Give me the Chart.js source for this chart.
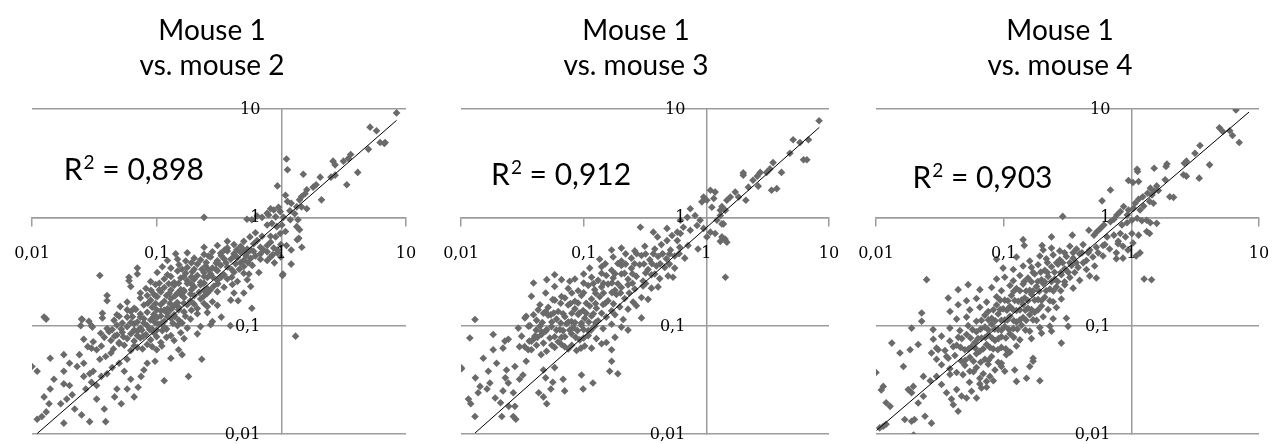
<!DOCTYPE html>
<html>
<head>
<meta charset="utf-8">
<script src="https://cdn.jsdelivr.net/npm/chart.js@4.4.1/dist/chart.umd.min.js"></script>
<style>
  body { margin: 0; background: #fff; width: 1272px; height: 444px; overflow: hidden; }
  .panel { position: absolute; top: 0; width: 424px; height: 444px; }
  .panel canvas { position: absolute; left: 0; top: 0; }
  .title { position: absolute; top: 12px; left: 0; width: 424px; text-align: center;
           font-family: Lato, sans-serif; font-size: 28px; line-height: 35px; color: #000; }
</style>
</head>
<body>
<div class="panel" style="left:0px"><canvas id="c1" width="424" height="444"></canvas><div class="title">Mouse 1<br>vs. mouse 2</div></div>
<div class="panel" style="left:424px"><canvas id="c2" width="424" height="444"></canvas><div class="title">Mouse 1<br>vs. mouse 3</div></div>
<div class="panel" style="left:848px"><canvas id="c3" width="424" height="444"></canvas><div class="title">Mouse 1<br>vs. mouse 4</div></div>
<script>
// axis ticks (log decades) and their labels, decimal comma as in the original
var decades = [0.01, 0.1, 1, 10];
var tickLabels = ['0,01', '0,1', '1', '10'];

// R squared values and where the label starts (data coords: x, baseline y)
var rValues = ['0,898', '0,912', '0,903'];
var rAt = [[0.018, 2.2], [0.0176, 1.98], [0.0193, 1.85]];

// trend line ends
var trend2 = [[0.011, 0.0101], [8.4, 7.85]];
var trend3 = [[0.013, 0.0102], [8.34, 6.77]];
var trend4 = [[0.0101, 0.0108], [8.36, 9.38]];

// mouse 1 (x) vs mouse 2 (y)
var mouse2 = [
  [0.010,0.042],[0.011,0.038],[0.014,0.050],[0.018,0.054],[0.024,0.054],[0.020,0.045],[0.015,0.032],[0.018,0.029],
  [0.020,0.028],[0.014,0.026],[0.0125,0.022],[0.0137,0.019],[0.012,0.0145],[0.011,0.0137],[0.013,0.016],[0.018,0.0126],
  [0.017,0.019],[0.019,0.021],[0.021,0.023],[0.022,0.017],[0.025,0.015],[0.029,0.013],[0.039,0.013],[0.038,0.017],
  [0.033,0.021],[0.026,0.034],[0.029,0.036],[0.031,0.038],[0.027,0.026],[0.030,0.030],[0.033,0.028],[0.036,0.034],
  [0.040,0.036],[0.044,0.041],[0.035,0.049],[0.039,0.052],[0.043,0.056],[0.036,0.065],[0.033,0.060],[0.030,0.062],
  [0.026,0.045],[0.023,0.042],[0.018,0.038],[0.046,0.022],[0.052,0.019],[0.048,0.026],[0.058,0.026],[0.066,0.022],
  [0.071,0.027],[0.062,0.032],[0.055,0.038],[0.050,0.045],[0.058,0.049],[0.079,0.039],[0.084,0.045],[0.075,0.034],
  [0.097,0.047],[0.115,0.031],[0.18,0.034],[0.23,0.049],[0.16,0.054],[0.15,0.060],[0.13,0.050],
  [0.035,0.29],[0.0125,0.12],[0.013,0.115],[0.24,1.0],[1.3,0.08],[1.03,0.30],[1.2,0.37],[1.34,0.62],[0.07,0.34],
  [0.06,0.28],[0.04,0.19],[0.025,0.115],[0.03,0.10],
  [0.028,0.064],[0.045,0.061],[0.055,0.066],[0.062,0.059],[0.070,0.063],[0.084,0.067],[0.10,0.060],[0.11,0.065],
  [0.026,0.075],[0.031,0.071],[0.038,0.078],[0.043,0.073],[0.050,0.070],[0.058,0.076],[0.066,0.072],[0.074,0.077],
  [0.0895,0.074],[0.108,0.070],[0.138,0.073],[0.166,0.076],
  [0.0356,0.085],[0.0415,0.088],[0.048,0.082],[0.053,0.087],[0.062,0.084],[0.070,0.089],[0.082,0.083],[0.095,0.086],
  [0.111,0.090],[0.13,0.081],[0.156,0.086],[0.212,0.084],
  [0.0246,0.100],[0.0305,0.097],[0.040,0.094],[0.048,0.101],[0.058,0.098],[0.066,0.104],[0.074,0.095],[0.084,0.100],
  [0.092,0.093],[0.104,0.103],[0.115,0.097],[0.147,0.100],[0.176,0.095],[0.225,0.098],[0.271,0.102],
  [0.0253,0.114],[0.0286,0.110],[0.0367,0.118],[0.0455,0.112],[0.058,0.120],[0.070,0.108],[0.079,0.116],[0.0895,0.113],
  [0.101,0.119],[0.115,0.110],[0.13,0.117],[0.151,0.112],[0.187,0.115],[0.28,0.109],
  [0.0367,0.130],[0.048,0.126],[0.062,0.135],[0.074,0.128],[0.084,0.133],[0.095,0.127],[0.108,0.137],[0.122,0.130],
  [0.138,0.126],[0.166,0.134],[0.212,0.129],[0.255,0.132],
  [0.051,0.150],[0.066,0.145],[0.079,0.155],[0.092,0.148],[0.108,0.157],[0.122,0.143],[0.138,0.152],[0.151,0.147],
  [0.176,0.156],[0.212,0.144],[0.255,0.150],[0.307,0.154],
  [0.040,0.170],[0.058,0.165],[0.074,0.180],[0.0895,0.172],[0.101,0.185],[0.115,0.168],[0.13,0.177],[0.147,0.163],
  [0.166,0.182],[0.187,0.170],[0.225,0.176],[0.28,0.166],[0.393,0.172],
  [0.074,0.200],[0.095,0.195],[0.108,0.205],[0.126,0.198],[0.147,0.200],[0.166,0.207],[0.187,0.196],[0.219,0.203],
  [0.255,0.199],[0.307,0.206],[0.417,0.200],
  [0.062,0.230],[0.082,0.220],[0.098,0.240],[0.115,0.225],[0.138,0.235],[0.156,0.215],[0.176,0.245],[0.20,0.228],
  [0.225,0.238],[0.255,0.220],[0.288,0.232],[0.347,0.226],[0.405,0.240],[0.568,0.230],
  [0.060,0.260],[0.0895,0.255],[0.115,0.270],[0.138,0.250],[0.156,0.275],[0.176,0.260],[0.20,0.268],[0.225,0.252],
  [0.255,0.278],[0.307,0.262],[0.369,0.270],[0.444,0.256],[0.533,0.265],
  [0.070,0.300],[0.101,0.310],[0.122,0.295],[0.147,0.320],[0.171,0.305],[0.193,0.315],[0.212,0.290],[0.24,0.310],
  [0.271,0.300],[0.307,0.322],[0.347,0.295],[0.417,0.312],[0.50,0.305],[0.55,0.300],[0.66,0.310],
  [0.111,0.350],[0.13,0.340],[0.151,0.365],[0.176,0.345],[0.212,0.370],[0.247,0.355],[0.28,0.340],[0.326,0.362],
  [0.369,0.348],[0.43,0.372],[0.50,0.352],[0.585,0.360],
  [0.122,0.400],[0.147,0.410],[0.171,0.395],[0.20,0.420],[0.225,0.405],[0.271,0.430],[0.307,0.398],[0.347,0.415],
  [0.393,0.410],[0.444,0.425],[0.50,0.402],[0.568,0.418],[0.68,0.410],[0.82,0.430],
  [0.142,0.460],[0.176,0.470],[0.24,0.455],[0.28,0.480],[0.326,0.465],[0.369,0.490],[0.417,0.460],[0.472,0.475],
  [0.533,0.470],[0.60,0.485],[0.68,0.460],[0.77,0.480],[0.93,0.470],
  [0.24,0.530],[0.307,0.550],[0.369,0.520],[0.417,0.560],[0.472,0.540],[0.533,0.510],[0.60,0.570],[0.68,0.530],
  [0.77,0.550],[0.87,0.520],[0.99,0.560],
  [0.369,0.600],[0.50,0.600],[0.64,0.610],[0.82,0.590],
  [0.39,0.10],[0.58,0.145],[0.33,0.12],[0.45,0.17],[0.5,0.2],[0.93,0.5],[0.85,0.45],[0.99,0.43],[1.1,0.55],
  [1.2,0.5],[0.88,0.38],[0.77,0.4],[1.02,0.29],[1.46,0.53],
  [8.4,9.2],[5.15,6.8],[5.8,6.3],[6.2,4.9],[6.7,4.8],[6.8,4.9],[5.0,4.25],[3.6,3.8],[3.45,3.5],[3.15,3.3],
  [2.6,3.3],[2.7,3.05],[4.1,2.6],[3.35,2.0],[2.5,2.35],[2.7,2.45],[2.05,2.35],[1.9,2.0],[1.8,1.9],[1.1,3.45],
  [1.12,2.75],[0.93,1.95],[1.5,2.5],[1.6,1.8],[1.55,1.65],[1.45,1.55],[1.4,1.45],[2.1,1.45],[1.08,1.6],[1.12,1.4],
  [1.2,1.35],[1.33,1.25],[1.45,1.25],[1.6,1.2],[1.17,1.15],[1.28,1.08],[1.36,0.95],[0.82,1.2],[0.87,1.17],[0.95,1.24],
  [0.98,1.13],[0.77,1.09],[0.53,0.96],[0.58,0.95],[0.64,1.03],[0.70,1.0],[0.79,1.05],[0.9,1.01],[1.04,1.0],[1.18,0.95],
  [1.33,0.82],[1.4,0.77],[0.77,0.85],[0.84,0.88],[0.92,0.82],[1.01,0.85],[1.08,0.74],[0.98,0.71],[0.9,0.66],[0.82,0.67],
  [0.7,0.67],[0.62,0.72],[0.56,0.66],[1.38,0.64],
  // dense core
  [0.05,0.068],[0.066,0.065],[0.077,0.061],[0.092,0.064],
  [0.046,0.080],[0.054,0.079],[0.07,0.081],[0.078,0.08],[0.1,0.079],[0.12,0.078],
  [0.044,0.092],[0.052,0.093],[0.066,0.091],[0.076,0.091],[0.088,0.092],[0.1,0.091],[0.12,0.093],
  [0.053,0.106],[0.062,0.107],[0.079,0.106],[0.097,0.107],[0.11,0.106],[0.135,0.105],[0.16,0.106],
  [0.05,0.122],[0.064,0.121],[0.074,0.12],[0.095,0.121],[0.108,0.123],[0.122,0.121],[0.14,0.121],[0.17,0.122],
  [0.058,0.14],[0.068,0.141],[0.1,0.14],[0.115,0.139],[0.13,0.141],[0.15,0.14],[0.19,0.139],
  [0.085,0.161],[0.098,0.16],[0.128,0.16],[0.145,0.162],[0.165,0.161],[0.2,0.158],[0.24,0.16],
  [0.084,0.19],[0.098,0.188],[0.12,0.19],[0.14,0.188],[0.158,0.191],[0.2,0.189],[0.24,0.188],
  [0.09,0.212],[0.105,0.214],[0.13,0.213],[0.165,0.212],[0.19,0.215],[0.24,0.212],[0.27,0.214],
  [0.105,0.246],[0.125,0.244],[0.15,0.246],[0.19,0.243],[0.24,0.247],[0.31,0.244],
  [0.13,0.284],[0.165,0.283],[0.19,0.282],[0.24,0.284],[0.28,0.283],[0.33,0.282],[0.4,0.28],
  [0.16,0.332],[0.2,0.331],[0.23,0.332],[0.26,0.33],[0.3,0.331],[0.4,0.33],[0.46,0.332],
  [0.19,0.38],[0.25,0.382],[0.3,0.378],[0.36,0.381],[0.47,0.38],[0.54,0.382],
  [0.26,0.44],[0.33,0.442],[0.42,0.44],[0.52,0.441],[0.62,0.44],
  [0.35,0.5],[0.44,0.502],[0.5,0.498],[0.57,0.5],[0.72,0.5]
];

// mouse 1 (x) vs mouse 3 (y)
var mouse3 = [
  [0.010,0.041],[0.0118,0.077],[0.013,0.114],[0.0115,0.021],[0.012,0.019],[0.013,0.0145],[0.0131,0.033],[0.0143,0.0275],
  [0.0138,0.024],[0.0152,0.050],[0.0167,0.038],[0.0163,0.026],[0.0172,0.0296],[0.0183,0.083],[0.0183,0.060],[0.0195,0.045],
  [0.019,0.0215],[0.021,0.0194],[0.0228,0.072],[0.022,0.062],[0.0235,0.039],[0.023,0.033],[0.0243,0.0296],[0.022,0.025],
  [0.0275,0.042],[0.0267,0.024],[0.0275,0.018],[0.0267,0.0145],[0.028,0.0137],[0.0245,0.018],[0.0215,0.0145],[0.030,0.032],
  [0.032,0.035],[0.034,0.047],[0.033,0.064],[0.036,0.072],[0.040,0.080],[0.0375,0.060],[0.0355,0.099],[0.034,0.122],
  [0.039,0.126],[0.0375,0.187],[0.039,0.248],[0.050,0.266],[0.058,0.295],[0.066,0.266],[0.077,0.257],[0.049,0.20],
  [0.056,0.174],[0.058,0.23],[0.066,0.186],[0.044,0.156],[0.049,0.135],[0.054,0.126],[0.044,0.099],[0.049,0.089],
  [0.040,0.077],[0.047,0.069],[0.045,0.054],[0.047,0.039],[0.049,0.033],[0.056,0.030],[0.054,0.026],[0.043,0.024],
  [0.047,0.022],[0.050,0.019],[0.070,0.025],[0.068,0.032],[0.058,0.041],[0.099,0.026],[0.119,0.0296],[0.096,0.035],
  [0.169,0.047],[0.19,0.036],[0.163,0.038],[0.0101,0.040],
  [0.030,0.064],[0.0353,0.060],[0.0413,0.066],[0.0498,0.058],[0.058,0.063],[0.066,0.067],[0.0748,0.061],[0.0875,0.059],
  [0.102,0.065],[0.116,0.062],[0.140,0.068],[0.169,0.060],
  [0.0243,0.075],[0.0312,0.080],[0.0376,0.072],[0.0454,0.083],[0.053,0.077],[0.062,0.071],[0.0703,0.079],[0.0796,0.084],
  [0.093,0.074],[0.109,0.081],[0.127,0.076],[0.153,0.070],[0.18,0.078],
  [0.0293,0.095],[0.0365,0.100],[0.0454,0.088],[0.0547,0.098],[0.064,0.092],[0.0725,0.104],[0.0822,0.096],[0.096,0.101],
  [0.109,0.090],[0.123,0.099],[0.144,0.094],[0.169,0.103],[0.203,0.097],[0.23,0.091],
  [0.0332,0.118],[0.0413,0.112],[0.0514,0.125],[0.0601,0.115],[0.0703,0.121],[0.0796,0.109],[0.0902,0.127],[0.102,0.117],
  [0.116,0.123],[0.131,0.111],[0.153,0.120],[0.18,0.126],[0.21,0.114],[0.296,0.118],
  [0.0426,0.140],[0.0514,0.148],[0.062,0.135],[0.0748,0.155],[0.0848,0.143],[0.099,0.138],[0.112,0.152],[0.127,0.145],
  [0.144,0.157],[0.169,0.137],[0.197,0.149],[0.23,0.142],[0.269,0.153],
  [0.0582,0.172],[0.0703,0.180],[0.0848,0.168],[0.096,0.190],[0.116,0.176],[0.135,0.185],[0.158,0.170],[0.185,0.194],
  [0.216,0.178],[0.253,0.165],[0.296,0.182],[0.335,0.175],
  [0.0748,0.220],[0.0902,0.210],[0.109,0.235],[0.123,0.215],[0.140,0.228],[0.158,0.242],[0.18,0.212],[0.203,0.225],
  [0.23,0.238],[0.261,0.218],[0.305,0.232],[0.357,0.222],[0.404,0.228],
  [0.0848,0.270],[0.116,0.280],[0.131,0.262],[0.153,0.290],[0.174,0.275],[0.203,0.300],[0.23,0.268],[0.269,0.285],
  [0.305,0.258],[0.357,0.295],[0.417,0.272],[0.488,0.288],[0.535,0.280],
  [0.112,0.340],[0.140,0.350],[0.169,0.325],[0.203,0.360],[0.245,0.338],[0.286,0.365],[0.335,0.330],[0.392,0.355],
  [0.458,0.345],[0.552,0.340],
  [0.135,0.410],[0.174,0.430],[0.203,0.395],[0.245,0.420],[0.296,0.445],[0.346,0.405],[0.404,0.435],[0.472,0.415],
  [0.552,0.440],[0.667,0.420],
  [0.169,0.500],[0.203,0.520],[0.261,0.490],[0.315,0.540],[0.38,0.510],[0.43,0.560],[0.51,0.500],[0.607,0.530],
  [0.71,0.550],[0.855,0.510],
  [8.3,7.8],[5.1,5.2],[5.8,4.9],[6.8,5.2],[6.2,3.4],[6.6,3.4],[4.8,3.9],[3.5,3.2],[3.3,2.8],[3.1,2.6],[4.1,2.6],
  [2.75,2.6],[2.6,2.4],[2.4,2.2],[2.65,1.94],[2.2,1.9],[2.0,2.57],[2.1,1.44],[1.83,1.54],[1.57,1.54],[1.47,1.44],
  [1.3,1.16],[1.72,1.71],[1.34,1.26],[0.95,1.54],[1.08,1.78],[1.18,1.71],[1.15,1.49],[1.01,1.44],[0.92,1.39],
  [1.11,1.24],[1.3,1.04],[1.43,1.16],[1.34,0.87],[0.74,1.2],[0.70,1.0],[0.615,0.94],[0.65,0.81],[0.58,0.73],
  [0.525,0.68],[0.478,0.61],[0.58,0.61],[0.81,1.04],[0.89,0.94],[0.84,0.84],[0.95,0.79],[1.08,0.73],[1.01,0.66],
  [1.18,0.71],[1.22,0.94],[1.38,0.87],[1.34,0.66],[1.47,0.59],[1.42,0.63],[0.74,0.76],[0.615,0.71],[0.478,0.79],
  [0.40,0.66],[0.37,0.73],[0.29,0.81],[3.4,1.78],[3.75,1.84],[2.0,2.45],[1.43,0.28],[1.3,0.6],
  // dense core
  [0.055,0.066],[0.07,0.064],[0.08,0.066],[0.095,0.062],
  [0.042,0.078],[0.058,0.079],[0.066,0.078],[0.086,0.078],[0.1,0.077],
  [0.041,0.091],[0.05,0.092],[0.06,0.091],[0.068,0.09],[0.077,0.091],[0.089,0.09],[0.1,0.092],[0.115,0.091],
  [0.046,0.107],[0.055,0.108],[0.065,0.106],[0.075,0.108],[0.085,0.107],[0.096,0.106],[0.11,0.108],[0.125,0.107],
  [0.047,0.13],[0.057,0.131],[0.068,0.129],[0.08,0.13],[0.092,0.131],[0.105,0.13],[0.12,0.129],[0.14,0.13],
  [0.065,0.161],[0.078,0.16],[0.09,0.162],[0.105,0.161],[0.125,0.16],[0.15,0.161],[0.175,0.159],
  [0.08,0.2],[0.1,0.201],[0.125,0.199],[0.145,0.2],[0.17,0.202],[0.2,0.2],[0.235,0.2],
  [0.1,0.247],[0.12,0.245],[0.145,0.246],[0.17,0.248],[0.19,0.244],[0.25,0.246],[0.32,0.245],
  [0.1,0.3],[0.14,0.305],[0.18,0.302],[0.215,0.304],[0.25,0.301],[0.32,0.306],[0.38,0.3],
  [0.15,0.372],[0.19,0.375],[0.22,0.37],[0.26,0.373],[0.31,0.371],[0.36,0.374],[0.42,0.372],[0.5,0.37],
  [0.22,0.46],[0.27,0.462],[0.32,0.458],[0.37,0.461],[0.44,0.46],[0.5,0.459],[0.6,0.462]
];

// mouse 1 (x) vs mouse 4 (y)
var mouse4 = [
  [0.010,0.037],[0.0114,0.0275],[0.011,0.0255],[0.012,0.0194],[0.0129,0.018],[0.0114,0.0118],[0.012,0.0123],[0.0107,0.0114],
  [0.0133,0.069],[0.0164,0.042],[0.0154,0.056],[0.0185,0.060],[0.0214,0.067],[0.0196,0.0275],[0.0179,0.0257],[0.019,0.024],
  [0.0168,0.0136],[0.019,0.0131],[0.020,0.0136],[0.0197,0.0098],[0.0242,0.0146],[0.0272,0.0126],[0.0235,0.0223],[0.0214,0.0193],
  [0.019,0.095],[0.0228,0.11],[0.0228,0.131],[0.028,0.092],[0.0249,0.266],[0.0368,0.18],[0.038,0.135],[0.044,0.215],
  [0.0527,0.239],[0.044,0.156],[0.0307,0.060],[0.0272,0.056],[0.0298,0.049],[0.0326,0.0436],[0.0357,0.052],[0.0403,0.064],
  [0.0235,0.034],[0.0266,0.031],[0.0298,0.034],[0.0326,0.0286],[0.038,0.0355],[0.0357,0.024],[0.039,0.021],[0.0428,0.0257],
  [0.0468,0.0224],[0.0403,0.0186],[0.044,0.0162],[0.0512,0.0215],[0.056,0.0248],[0.0613,0.0215],[0.067,0.0266],[0.0734,0.0306],
  [0.078,0.034],[0.065,0.0327],[0.054,0.030],[0.048,0.0353],[0.058,0.0376],[0.126,0.0306],[0.151,0.0327],[0.192,0.031],
  [0.16,0.042],[0.17,0.047],[0.122,0.039],[0.102,0.038],[0.096,0.045],[0.283,0.069],[0.32,0.0986],[0.31,0.117],
  [0.237,0.089],[0.198,0.085],[0.065,0.029],[0.0735,0.027],[0.083,0.031],
  [0.0379,0.040],[0.0428,0.037],[0.0497,0.043],[0.0543,0.038],[0.0612,0.041],[0.0692,0.036],[0.0757,0.044],[0.0855,0.039],[0.096,0.042],
  [0.0368,0.050],[0.0415,0.053],[0.0468,0.047],[0.0543,0.051],[0.0612,0.055],[0.0713,0.049],[0.0805,0.052],[0.0906,0.046],
  [0.105,0.054],[0.17,0.050],
  [0.0298,0.062],[0.0347,0.059],[0.0428,0.066],[0.0497,0.060],[0.056,0.064],[0.0651,0.058],[0.0735,0.067],[0.0828,0.061],
  [0.096,0.063],[0.112,0.057],[0.126,0.065],
  [0.0281,0.075],[0.0326,0.080],[0.0379,0.072],[0.0441,0.078],[0.0512,0.083],[0.0595,0.070],[0.067,0.077],[0.0757,0.082],
  [0.0855,0.073],[0.096,0.079],[0.112,0.084],[0.134,0.074],[0.165,0.076],
  [0.0379,0.095],[0.0454,0.090],[0.0527,0.100],[0.0612,0.088],[0.0713,0.097],[0.0805,0.103],[0.0906,0.092],[0.102,0.098],
  [0.119,0.094],[0.138,0.101],[0.16,0.089],[0.192,0.096],[0.23,0.099],
  [0.0428,0.115],[0.0512,0.120],[0.0612,0.110],[0.0713,0.125],[0.0805,0.117],[0.0906,0.128],[0.102,0.113],[0.112,0.122],
  [0.126,0.108],[0.142,0.119],[0.16,0.126],[0.181,0.112],[0.204,0.121],[0.244,0.116],
  [0.0543,0.140],[0.0651,0.148],[0.0757,0.135],[0.088,0.155],[0.099,0.143],[0.112,0.150],[0.126,0.138],[0.142,0.157],
  [0.155,0.145],[0.175,0.133],[0.198,0.152],[0.223,0.141],[0.259,0.147],
  [0.0512,0.170],[0.0612,0.178],[0.0735,0.165],[0.088,0.185],[0.102,0.172],[0.115,0.190],[0.13,0.168],[0.146,0.180],
  [0.165,0.195],[0.186,0.174],[0.21,0.183],[0.244,0.166],[0.283,0.176],
  [0.0651,0.215],[0.0805,0.225],[0.096,0.210],[0.112,0.235],[0.126,0.220],[0.142,0.242],[0.16,0.212],[0.181,0.230],
  [0.204,0.245],[0.23,0.218],[0.259,0.228],[0.301,0.238],[0.35,0.222],
  [0.088,0.270],[0.102,0.280],[0.119,0.260],[0.134,0.290],[0.155,0.275],[0.175,0.300],[0.198,0.265],[0.223,0.285],
  [0.251,0.270],[0.283,0.295],[0.33,0.278],[0.394,0.262],[0.472,0.288],[0.532,0.275],
  [0.099,0.340],[0.119,0.330],[0.142,0.355],[0.165,0.345],[0.186,0.365],[0.21,0.325],[0.237,0.350],[0.267,0.370],
  [0.301,0.335],[0.34,0.360],[0.383,0.345],[0.445,0.330],[0.516,0.355],
  [0.088,0.410],[0.126,0.430],[0.16,0.395],[0.192,0.440],[0.216,0.415],[0.244,0.450],[0.275,0.405],[0.31,0.435],
  [0.35,0.420],[0.394,0.460],[0.445,0.400],[0.50,0.430],[0.60,0.440],[0.763,0.415],
  [0.204,0.500],[0.237,0.520],[0.275,0.490],[0.33,0.540],[0.372,0.510],[0.419,0.560],[0.472,0.500],[0.532,0.530],
  [0.60,0.550],[0.676,0.510],[0.787,0.570],
  [0.86,0.54],[1.09,0.44],[0.763,0.47],[0.86,0.42],[0.94,0.50],[0.62,0.56],[1.03,0.58],[0.79,0.6],[0.142,0.622],
  [0.145,0.55],[0.29,1.02],[0.237,0.66],[0.2,0.55],[1.26,0.27],[1.44,0.265],[1.17,0.47],
  [6.6,9.8],[4.9,6.7],[5.2,6.2],[5.9,6.3],[6.2,5.7],[7.0,4.9],[3.45,4.6],[3.15,3.9],[2.7,3.3],[2.6,3.16],[4.1,3.05],
  [3.4,2.3],[2.56,2.47],[2.7,2.4],[1.9,3.1],[1.87,2.95],[1.51,2.84],[1.11,2.78],[1.12,2.65],[0.95,2.19],[1.14,2.14],
  [1.03,2.1],[0.686,1.79],[0.59,1.42],[1.41,1.86],[1.51,1.75],[1.34,1.67],[1.23,1.55],[2.0,1.55],[2.14,1.53],[1.84,2.22],
  [1.58,1.95],[1.63,1.77],[1.45,1.61],[1.39,1.4],[1.49,1.35],[1.25,1.27],[1.14,1.47],[1.07,1.35],[1.04,1.21],[1.17,1.17],
  [0.95,1.17],[0.87,1.26],[0.82,1.13],[0.93,1.05],[0.77,1.05],[0.73,0.96],[0.686,0.91],[0.61,0.85],[0.573,0.79],[0.54,0.74],
  [0.845,0.85],[0.925,0.89],[1.01,0.94],[1.11,0.98],[1.21,0.93],[1.32,0.94],[1.41,0.89],[1.58,0.88],[1.32,0.74],[0.646,0.66],
  [0.73,0.685],[0.82,0.71],[0.9,0.66],[1.01,0.71],[1.14,0.685],[0.51,0.685],[0.465,0.76],[0.345,0.685],[1.39,0.71],
  // dense core
  [0.05,0.048],[0.058,0.047],[0.066,0.046],[0.076,0.048],
  [0.046,0.063],[0.053,0.061],[0.06,0.062],[0.069,0.061],[0.078,0.063],[0.09,0.06],[0.104,0.061],
  [0.047,0.076],[0.055,0.077],[0.063,0.076],[0.072,0.078],[0.081,0.077],[0.091,0.076],[0.104,0.077],[0.12,0.078],
  [0.057,0.092],[0.066,0.093],[0.076,0.091],[0.085,0.093],[0.096,0.091],[0.11,0.092],[0.128,0.093],[0.148,0.091],
  [0.067,0.112],[0.076,0.113],[0.086,0.111],[0.096,0.112],[0.107,0.113],[0.12,0.111],[0.134,0.113],[0.15,0.112],[0.17,0.113],
  [0.083,0.14],[0.094,0.141],[0.106,0.139],[0.118,0.141],[0.134,0.14],[0.148,0.139],[0.165,0.141],[0.186,0.14],
  [0.094,0.172],[0.108,0.17],[0.122,0.171],[0.138,0.172],[0.155,0.17],[0.175,0.172],[0.198,0.171],[0.23,0.17],
  [0.12,0.208],[0.134,0.21],[0.15,0.209],[0.17,0.21],[0.19,0.208],[0.215,0.21],[0.245,0.209],[0.28,0.21],
  [0.145,0.255],[0.165,0.254],[0.185,0.256],[0.21,0.254],[0.237,0.255],[0.265,0.256],[0.3,0.254],
  [0.17,0.31],[0.195,0.312],[0.22,0.31],[0.25,0.311],[0.28,0.31],[0.32,0.312],[0.36,0.31],
  [0.22,0.382],[0.26,0.38],[0.29,0.381],[0.33,0.38],[0.37,0.382],[0.42,0.38],
  [0.3,0.47],[0.35,0.472],[0.41,0.47],[0.46,0.471],[0.55,0.47]
];

var gridColor = '#9c9c9c';
var dotColor = '#6a6a6a';
var tickFont = '16px "DejaVu Serif"';

// axis labels along the crossing axes, plus the R squared text
var labelPlugin = {
  id: 'labels',
  afterDatasetsDraw: function(chart, args, opts) {
    var ctx = chart.ctx, sx = chart.scales.x, sy = chart.scales.y;
    var ax = sx.getPixelForValue(1), ay = sy.getPixelForValue(1);
    ctx.save();
    ctx.fillStyle = '#000';
    ctx.font = tickFont;
    ctx.textBaseline = 'middle';
    ctx.textAlign = 'right';
    decades.forEach(function(v, i) {
      ctx.fillText(tickLabels[i], ax - 21, sy.getPixelForValue(v) + 1);
    });
    ctx.textAlign = 'center';
    decades.forEach(function(v, i) {
      ctx.fillText(tickLabels[i], sx.getPixelForValue(v), ay + 36.5);
    });
    var x = sx.getPixelForValue(opts.at[0]);
    var y = sy.getPixelForValue(opts.at[1]);
    ctx.textAlign = 'left';
    ctx.textBaseline = 'alphabetic';
    ctx.font = '30px Lato';
    ctx.fillText('R', x, y);
    x += ctx.measureText('R').width + 1;
    ctx.font = '19px Lato';
    ctx.fillText('2', x, y - 11);
    x += ctx.measureText('2').width;
    ctx.font = '30px Lato';
    ctx.fillText(' = ' + opts.value, x, y);
    ctx.restore();
  }
};

function toXY(arr) {
  return arr.map(function(p) { return {x: p[0], y: p[1]}; });
}

function decadeTicks(scale) {
  scale.ticks = decades.map(function(v) { return {value: v}; });
}

function makeChart(id, points, trend, idx, pad) {
  var ctx = document.getElementById(id).getContext('2d');
  return new Chart(ctx, {
    type: 'scatter',
    data: {
      datasets: [{
        type: 'line',
        data: toXY(trend),
        borderColor: '#000',
        borderWidth: 1,
        pointRadius: 0,
        fill: false
      }, {
        data: toXY(points),
        pointStyle: 'rectRot',
        pointRadius: 3.8,
        pointBackgroundColor: dotColor,
        pointBorderWidth: 0
      }]
    },
    options: {
      responsive: false,
      animation: false,
      devicePixelRatio: 1,
      layout: { padding: pad },
      plugins: {
        legend: { display: false },
        tooltip: { enabled: false },
        labels: { value: rValues[idx], at: rAt[idx] }
      },
      scales: {
        x: {
          type: 'logarithmic',
          min: 0.01, max: 10,
          position: { y: 1 },
          afterBuildTicks: decadeTicks,
          // the crossing axis should not take any room from the plot
          afterFit: function(s) { s.height = 0; s.paddingLeft = 0; s.paddingRight = 0; },
          ticks: { display: false },
          grid: { drawOnChartArea: false, drawTicks: true, tickLength: 8, color: gridColor, lineWidth: 1.5 },
          border: { color: gridColor, width: 1.5 }
        },
        y: {
          type: 'logarithmic',
          min: 0.01, max: 10,
          position: { x: 1 },
          afterBuildTicks: decadeTicks,
          afterFit: function(s) { s.width = 0; s.paddingTop = 0; s.paddingBottom = 0; },
          ticks: { display: false },
          grid: { drawTicks: false, color: gridColor, lineWidth: 1.5 },
          border: { color: gridColor, width: 1.5 }
        }
      }
    },
    plugins: [labelPlugin]
  });
}

makeChart('c1', mouse2, trend2, 0, { top: 109, bottom: 10, left: 32, right: 18 });
makeChart('c2', mouse3, trend3, 1, { top: 109, bottom: 10, left: 37, right: 19 });
makeChart('c3', mouse4, trend4, 2, { top: 109, bottom: 10, left: 28, right: 13 });
</script>
</body>
</html>
